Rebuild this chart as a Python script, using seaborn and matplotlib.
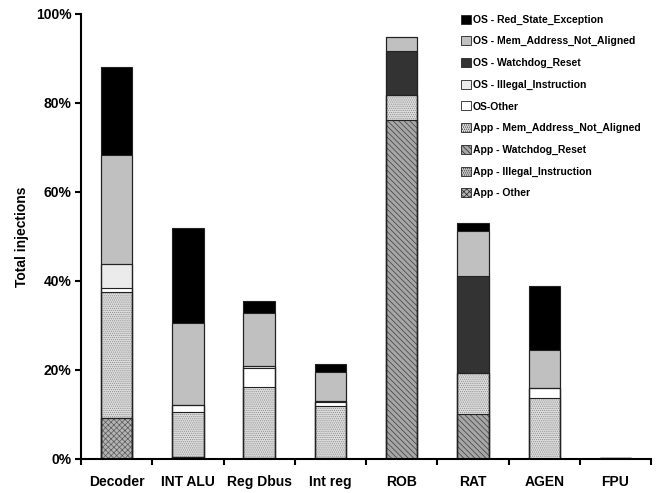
import matplotlib
matplotlib.use("Agg")
import matplotlib.pyplot as plt
from matplotlib.patches import Patch
from matplotlib.ticker import FixedLocator, FuncFormatter
import numpy as np
import seaborn as sns

# Fault-injection outcomes per processor unit (% of total injections)
categories = ["Decoder", "INT ALU", "Reg Dbus", "Int reg", "ROB", "RAT", "AGEN", "FPU"]

app_other = [9.3, 0.5, 0.2, 0.2, 0.0, 0.0, 0.0, 0.0]
app_illegal = [0.0, 0.0, 0.0, 0.0, 0.0, 0.0, 0.0, 0.0]
app_watchdog = [0.0, 0.0, 0.0, 0.0, 76.2, 10.2, 0.0, 0.0]
app_mem = [28.3, 10.1, 16.0, 11.8, 5.5, 9.2, 13.8, 0.2]
os_other = [0.8, 1.5, 4.3, 0.9, 0.0, 0.0, 2.1, 0.0]
os_illegal = [5.5, 0.0, 0.5, 0.2, 0.0, 0.0, 0.0, 0.0]
os_watchdog = [0.0, 0.0, 0.0, 0.0, 10.0, 21.7, 0.0, 0.0]
os_mem = [24.4, 18.5, 11.9, 6.5, 3.2, 10.1, 8.6, 0.0]
os_red = [19.8, 21.3, 2.7, 1.8, 0.0, 1.9, 14.4, 0.0]

series_names = [
    "App - Other",
    "App - Illegal_Instruction",
    "App - Watchdog_Reset",
    "App - Mem_Address_Not_Aligned",
    "OS-Other",
    "OS - Illegal_Instruction",
    "OS - Watchdog_Reset",
    "OS - Mem_Address_Not_Aligned",
    "OS - Red_State_Exception",
]
series_values = [app_other, app_illegal, app_watchdog, app_mem,
                 os_other, os_illegal, os_watchdog, os_mem, os_red]

# (face colour, hatch, hatch colour) per series, bottom of stack first
styles = [
    ("#b4b4b4", "xxxxxx", "#5a5a5a"),
    ("#c8c8c8", "........", "#6e6e6e"),
    ("#a6a6a6", "\\\\\\\\\\\\", "#3c3c3c"),
    ("#dcdcdc", "........", "#8a8a8a"),
    ("#ffffff", None, None),
    ("#ebebeb", None, None),
    ("#333333", None, None),
    ("#c0c0c0", None, None),
    ("#000000", None, None),
]

sns.set_style("white")
plt.rcParams["font.family"] = ["Liberation Sans", "DejaVu Sans"]
plt.rcParams["font.weight"] = "bold"
plt.rcParams["hatch.linewidth"] = 0.5
for key in ("text.color", "axes.labelcolor", "xtick.color", "ytick.color"):
    plt.rcParams[key] = "black"

fig = plt.figure(figsize=(6.57, 4.93), dpi=100)
ax = fig.add_axes([0.1233, 0.069, 0.8677, 0.9027])

tops = np.cumsum(np.array(series_values, dtype=float), axis=0)
bar_w = 0.44

# Fill each stacked segment: tallest cumulative bar first, lower ones on top
for i in range(len(series_names) - 1, -1, -1):
    face, hatch, hcol = styles[i]
    kw = dict(hatch=hatch, edgecolor=hcol) if hatch else dict(edgecolor="none")
    sns.barplot(x=categories, y=tops[i], color=face, saturation=1,
                width=bar_w, linewidth=0, ax=ax, **kw)

# Segment outlines
for i in range(len(series_names)):
    sns.barplot(x=categories, y=tops[i], width=bar_w, saturation=1,
                facecolor="none", edgecolor="#222222", linewidth=0.8, ax=ax)

ax.set_xlim(-0.5, len(categories) - 0.5)
ax.set_ylim(0, 100)
ax.set_xlabel("")
ax.set_ylabel("Total injections", fontsize=10, fontweight="bold", labelpad=5)

ax.yaxis.set_major_locator(FixedLocator([0, 20, 40, 60, 80, 100]))
ax.yaxis.set_major_formatter(FuncFormatter(lambda v, p: f"{v:.0f}%"))
ax.tick_params(axis="y", left=True, length=4, width=1.5, labelsize=10, pad=3)
ax.tick_params(axis="x", which="major", bottom=False, labelsize=10, pad=8)
ax.set_xticks(np.arange(-0.5, len(categories) + 0.5, 1.0), minor=True)
ax.tick_params(axis="x", which="minor", bottom=True, length=4, width=1.5)
for lab in ax.get_xticklabels() + ax.get_yticklabels():
    lab.set_fontweight("bold")

for side in ("top", "right"):
    ax.spines[side].set_visible(False)
for side in ("left", "bottom"):
    ax.spines[side].set_linewidth(1.5)
    ax.spines[side].set_color("black")

handles = []
for name, (face, hatch, hcol) in zip(series_names, styles):
    handles.append(Patch(facecolor=face, edgecolor="#222222", linewidth=0.6,
                         hatch=hatch, label=name))
handles = handles[::-1]
leg = fig.legend(handles=handles, loc="upper left",
                 bbox_to_anchor=(0.695, 0.979), frameon=False,
                 prop={"size": 7.5, "weight": "bold"},
                 handlelength=0.95, handleheight=0.95, handletextpad=0.2,
                 labelspacing=1.11, borderaxespad=0)

fig.savefig("out.png", dpi=100)
